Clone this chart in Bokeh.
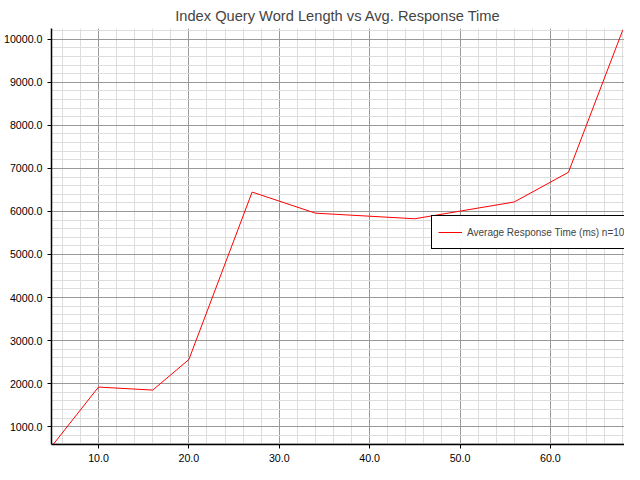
from bokeh.plotting import figure
from bokeh.models import SingleIntervalTicker, NumeralTickFormatter, Range1d, Legend, LegendItem
from bokeh.embed import file_html
from bokeh.resources import INLINE

word_length = [5, 10, 16, 20, 27, 34, 45, 56, 62, 68]
avg_response_ms = [590, 1920, 1850, 2560, 6450, 5960, 5830, 6220, 6910, 10210]

p = figure(width=624, height=464, output_backend="svg", toolbar_location=None,
           title="Index Query Word Length vs Avg. Response Time",
           x_range=Range1d(4.8, 68.2), y_range=Range1d(586, 10250),
           min_border=0, min_border_left=38, min_border_right=0,
           min_border_top=4, min_border_bottom=20)
p.title.align = "center"
p.title.text_font = "Liberation Sans"
p.title.text_font_style = "normal"
p.title.text_font_size = "11pt"

r = p.line(word_length, avg_response_ms, line_color="red", line_width=1)

p.xaxis.ticker = SingleIntervalTicker(interval=10, num_minor_ticks=5)
p.yaxis.ticker = SingleIntervalTicker(interval=1000, num_minor_ticks=5)
p.xaxis.formatter = NumeralTickFormatter(format="0.0")
p.yaxis.formatter = NumeralTickFormatter(format="0.0")
for ax in (p.xaxis, p.yaxis):
    ax.major_label_text_font = "Liberation Sans"
    ax.major_label_text_font_size = "8pt"
    ax.major_label_text_color = "black"
    ax.axis_line_color = "black"
    ax.axis_line_width = 1.5
    ax.major_tick_out = 4
    ax.major_tick_in = 0
    ax.minor_tick_line_color = None

p.xgrid.grid_line_color = "#999999"
p.ygrid.grid_line_color = "#999999"
p.xgrid.minor_grid_line_color = "#dddddd"
p.ygrid.minor_grid_line_color = "#dddddd"
p.outline_line_color = None

legend = Legend(items=[LegendItem(label="Average Response Time (ms) n=10", renderers=[r])],
                location=(380, 195))
legend.label_text_font = "Liberation Sans"
legend.label_text_font_size = "7.5pt"
legend.border_line_color = "black"
legend.border_line_alpha = 1
legend.glyph_width = 24
legend.padding = 6
legend.margin = 0
p.add_layout(legend, "center")

open("out.html", "w").write(file_html(p, INLINE))
